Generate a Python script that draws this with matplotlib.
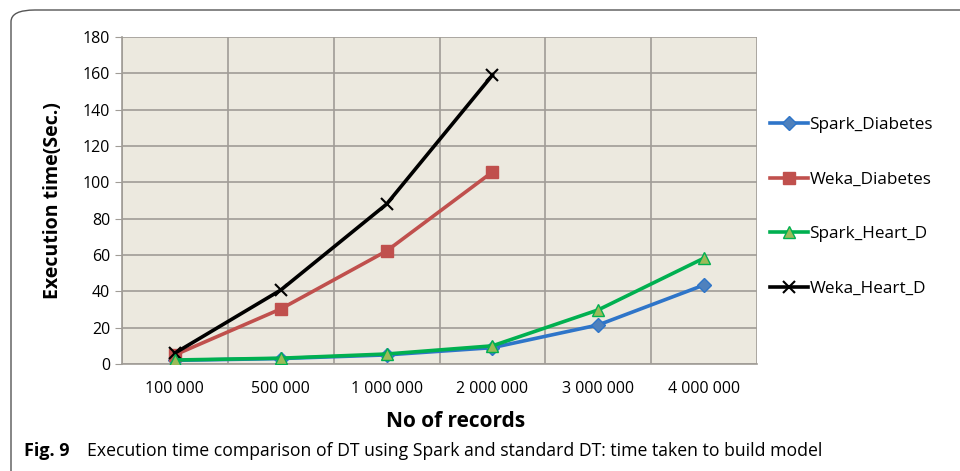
import numpy as np
import matplotlib.pyplot as plt
from matplotlib.patches import FancyBboxPatch

# ── Datos ─────────────────────────────────────────────────────────────────────
records = ["100 000", "500 000", "1 000 000", "2 000 000", "3 000 000", "4 000 000"]
spark_diabetes = [2.0, 3.0, 5.0, 9.0, 21.5, 43.5]
weka_diabetes = [5.0, 30.3, 62.2, 105.7]
spark_heart = [2.2, 3.2, 5.5, 10.0, 29.8, 58.3]
weka_heart = [6.0, 40.7, 88.0, 159.0]

# ── Colores ───────────────────────────────────────────────────────────────────
AZUL = "#2E75C9"
AZUL_MK = "#4F81BD"
ROJO = "#C0504D"
VERDE = "#00B050"
VERDE_MK = "#9BBB59"
NEGRO = "#000000"
FONDO = "#ECE9DF"
GRID = "#A09C96"

plt.rcParams.update({
    "font.family": ["Open Sans", "DejaVu Sans"],
    "font.size": 11,
})

W, H = 960, 471
fig = plt.figure(figsize=(W / 100, H / 100), dpi=100)
fig.patch.set_facecolor("white")

# marco redondeado (sale por la derecha y por abajo)
top = 1 - 10 / H
frame = FancyBboxPatch((11 / W, -0.2), 1.2, top + 0.2,
                       boxstyle="round,pad=0,rounding_size=0.025",
                       transform=fig.transFigure, fc="none", ec="#555555",
                       lw=1.0, zorder=0)
fig.patches.append(frame)

ax = fig.add_axes([122 / W, 107 / H, (757 - 122) / W, (364 - 37) / H])
ax.set_facecolor(FONDO)

x = np.arange(len(records))
xw = np.arange(len(weka_diabetes))

ax.plot(x, spark_diabetes, color=AZUL, lw=2.6, marker="D", ms=7,
        mfc=AZUL_MK, mec=AZUL, label="Spark_Diabetes", zorder=3)
ax.plot(xw, weka_diabetes, color=ROJO, lw=2.6, marker="s", ms=9,
        mfc=ROJO, mec=ROJO, label="Weka_Diabetes", zorder=3)
ax.plot(x, spark_heart, color=VERDE, lw=2.6, marker="^", ms=9,
        mfc=VERDE_MK, mec=VERDE, label="Spark_Heart_D", zorder=4)
ax.plot(xw, weka_heart, color=NEGRO, lw=2.6, marker="x", ms=9, mew=1.5,
        label="Weka_Heart_D", zorder=3)

ax.set_xlim(-0.5, len(records) - 0.5)
ax.set_ylim(0, 180)
ax.set_yticks(np.arange(0, 181, 20))
ax.set_xticks(x)
ax.set_xticklabels(records)
ax.set_xticks(np.arange(-0.5, len(records), 1), minor=True)
ax.grid(True, which="minor", axis="x", color=GRID, lw=1.2)
ax.grid(True, which="major", axis="y", color=GRID, lw=1.2)
ax.set_axisbelow(True)
ax.tick_params(axis="x", which="both", length=0, pad=12, labelsize=11.5)
ax.tick_params(axis="y", length=5, color=GRID, labelsize=11.5)
for s in ["top", "right"]:
    ax.spines[s].set_visible(False)
for s in ["left", "bottom"]:
    ax.spines[s].set_color(GRID)
    ax.spines[s].set_linewidth(1.2)

ax.set_ylabel("Execution time(Sec.)", fontsize=14, fontweight="bold", labelpad=14)
ax.set_xlabel("No of records", fontsize=15, fontweight="bold")
ax.xaxis.set_label_coords(0.526, -0.145)

ax.legend(loc="upper left", bbox_to_anchor=(1.01, 0.775), frameon=False,
          fontsize=12.3, labelspacing=2.25, handlelength=2.2,
          handletextpad=0.1, borderaxespad=0)

fig.text(24 / W, 1 - 451 / H, "Fig. 9", fontsize=13, fontweight="bold",
         va="center", ha="left")
fig.text(87 / W, 1 - 451 / H,
         "Execution time comparison of DT using Spark and standard DT: time taken to build model",
         fontsize=12.7, va="center", ha="left")

fig.savefig("out.png", dpi=100)
